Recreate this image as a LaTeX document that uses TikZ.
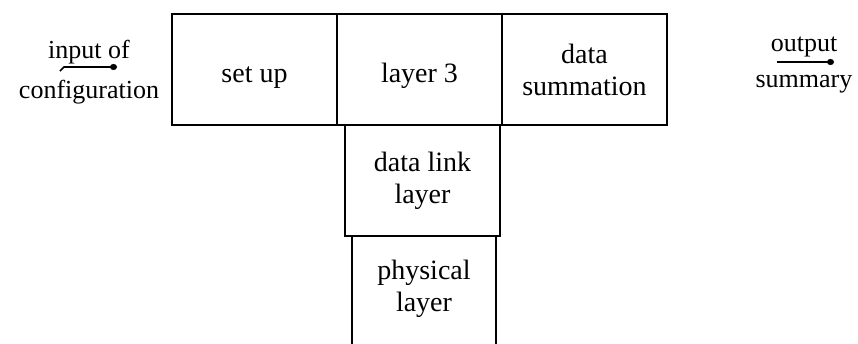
\documentclass[tikz,border=0pt]{standalone}
\usepackage{fontspec}
\setmainfont{Liberation Serif}
\usetikzlibrary{positioning,arrows.meta}

\begin{document}
\begin{tikzpicture}[x=1pt, y=-1pt,
                layerbox/.style={rectangle, draw=black, line width=2pt, outer sep=0pt, inner sep=0pt, align=center, minimum width=165pt, minimum height=111pt},
                onelinebox/.style={layerbox, text height=30pt, text depth=5pt},
                labeltext/.style={align=center, inner sep=0pt, font=\fontsize{26}{30}\selectfont},
                blobline/.style={line width=1.6pt, -{Circle[length=7pt,width=6pt]}},
                every node/.style={font=\fontsize{28}{32}\selectfont},
            ]
            \clip (0,0) rectangle (858,343);
            %Nodes
            \node[onelinebox]                      (setup)      at (254.5,69.5) {set up};
            \node[onelinebox]                      (layer3)     [right=0pt of setup] {layer 3};
            \node[layerbox]                        (summation)  [right=0pt of layer3] {data\\summation};
            \node[layerbox, minimum width=155pt]   (datalink)   [below=0pt of layer3, xshift=3pt] {data link\\layer};
            \node[layerbox, minimum width=144pt, minimum height=130pt]
                                                   (physical)   [below=0pt of datalink, xshift=1pt] {};
            \node[align=center, inner sep=0pt]     (physicaltext) at (424,289) {physical\\layer};
            \node[labeltext]                       (inputlabel)  at (89,72) {input of\\[10pt]configuration};
            \node[labeltext]                       (outputlabel) at (804,65) {output\\[6pt]summary};
            \coordinate (inputtail)  at (60,71);
            \coordinate (inputhead)  at (117,67);
            \coordinate (outputtail) at (777,62);
            \coordinate (outputhead) at (834,62);

            %Lines
            \draw[blobline] (inputtail) -- ++(4,-4) -- (inputhead);
            \draw[blobline] (outputtail) -- (outputhead);
        \end{tikzpicture}
\end{document}
